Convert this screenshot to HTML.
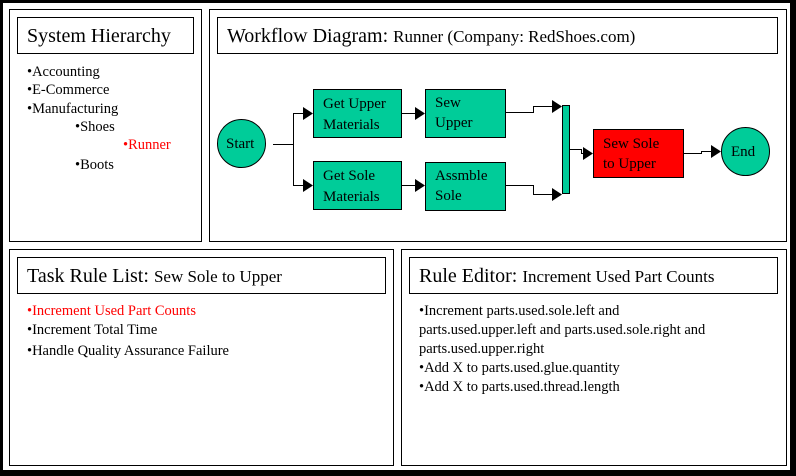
<!DOCTYPE html>
<html><head><meta charset="utf-8"><style>
html,body{margin:0;padding:0;background:#fff;}
svg{display:block;font-family:"Liberation Serif",serif;}
</style></head><body>
<svg width="796" height="476" viewBox="0 0 796 476" xmlns="http://www.w3.org/2000/svg">
<rect x="1.5" y="1.5" width="791" height="471" fill="#fff" stroke="#000" stroke-width="3"/>
<rect x="790" y="0" width="6" height="476" fill="#000"/>
<rect x="0" y="470" width="796" height="6" fill="#000"/>
<g fill="none" stroke="#000" stroke-width="1">
<rect x="9.5" y="9.5" width="192" height="232"/>
<rect x="209.5" y="9.5" width="577" height="232"/>
<rect x="9.5" y="249.5" width="384" height="216"/>
<rect x="401.5" y="249.5" width="385" height="216"/>
<rect x="17.5" y="17.5" width="176" height="36"/>
<rect x="217.5" y="17.5" width="560" height="36"/>
<rect x="17.5" y="257.5" width="368" height="36"/>
<rect x="409.5" y="257.5" width="368" height="36"/>
</g>
<text x="27" y="42" font-size="20">System Hierarchy</text>
<text x="227" y="42" font-size="20">Workflow Diagram: <tspan font-size="17">Runner (Company: RedShoes.com)</tspan></text>
<text x="27" y="282" font-size="20">Task Rule List: <tspan font-size="17">Sew Sole to Upper</tspan></text>
<text x="419" y="282" font-size="20">Rule Editor: <tspan font-size="17">Increment Used Part Counts</tspan></text>
<g font-size="14.5">
<text x="27" y="76">•Accounting</text>
<text x="27" y="94">•E-Commerce</text>
<text x="27" y="113">•Manufacturing</text>
<text x="75" y="131">•Shoes</text>
<text x="123" y="149" fill="#f00">•Runner</text>
<text x="75" y="169">•Boots</text>
<text x="27" y="315" fill="#f00">•Increment Used Part Counts</text>
<text x="27" y="334">•Increment Total Time</text>
<text x="27" y="355">•Handle Quality Assurance Failure</text>
<text x="419" y="315">•Increment parts.used.sole.left and</text>
<text x="419" y="334">parts.used.upper.left and parts.used.sole.right and</text>
<text x="419" y="353">parts.used.upper.right</text>
<text x="419" y="372">•Add X to parts.used.glue.quantity</text>
<text x="419" y="391">•Add X to parts.used.thread.length</text>
</g>
<g stroke="#000" stroke-width="1" fill="#00cc99">
<circle cx="241.5" cy="143.5" r="24"/>
<circle cx="745.5" cy="151.5" r="24"/>
<rect x="313.5" y="89.5" width="88" height="48"/>
<rect x="425.5" y="89.5" width="80" height="48"/>
<rect x="313.5" y="161.5" width="88" height="48"/>
<rect x="425.5" y="162.5" width="80" height="48"/>
<rect x="562.5" y="105.5" width="7" height="88"/>
<rect x="593.5" y="129.5" width="90" height="48" fill="#f00"/>
</g>
<g stroke="#000" stroke-width="1" fill="none">
<path d="M273 144.5H293.5V113.5H305M293.5 144.5V185.5H305"/>
<path d="M401 113.5H417"/>
<path d="M401 185.5H417"/>
<path d="M505 112.5H533.5V106.5H554"/>
<path d="M505 185.5H533.5V194.5H554"/>
<path d="M569 149.5H581.5V153.5H585"/>
<path d="M683 153.5H701.5V151.5H713"/>
</g>
<g fill="#000">
<polygon points="303,107 313,113.5 303,120"/>
<polygon points="303,179 313,185.5 303,192"/>
<polygon points="415,107 425,113.5 415,120"/>
<polygon points="415,179 425,185.5 415,192"/>
<polygon points="552,100 562,106.5 552,113"/>
<polygon points="552,188 562,194.5 552,201"/>
<polygon points="583,147 593,153.5 583,160"/>
<polygon points="711,145 721,151.5 711,158"/>
</g>
<g font-size="15">
<text x="226" y="148">Start</text>
<text x="731" y="156">End</text>
<text x="323" y="108">Get Upper</text>
<text x="323" y="129">Materials</text>
<text x="435" y="107">Sew</text>
<text x="435" y="127">Upper</text>
<text x="323" y="180">Get Sole</text>
<text x="323" y="201">Materials</text>
<text x="435" y="180">Assmble</text>
<text x="435" y="200">Sole</text>
<text x="603" y="148">Sew Sole</text>
<text x="603" y="168">to Upper</text>
</g>
</svg>
</body></html>
